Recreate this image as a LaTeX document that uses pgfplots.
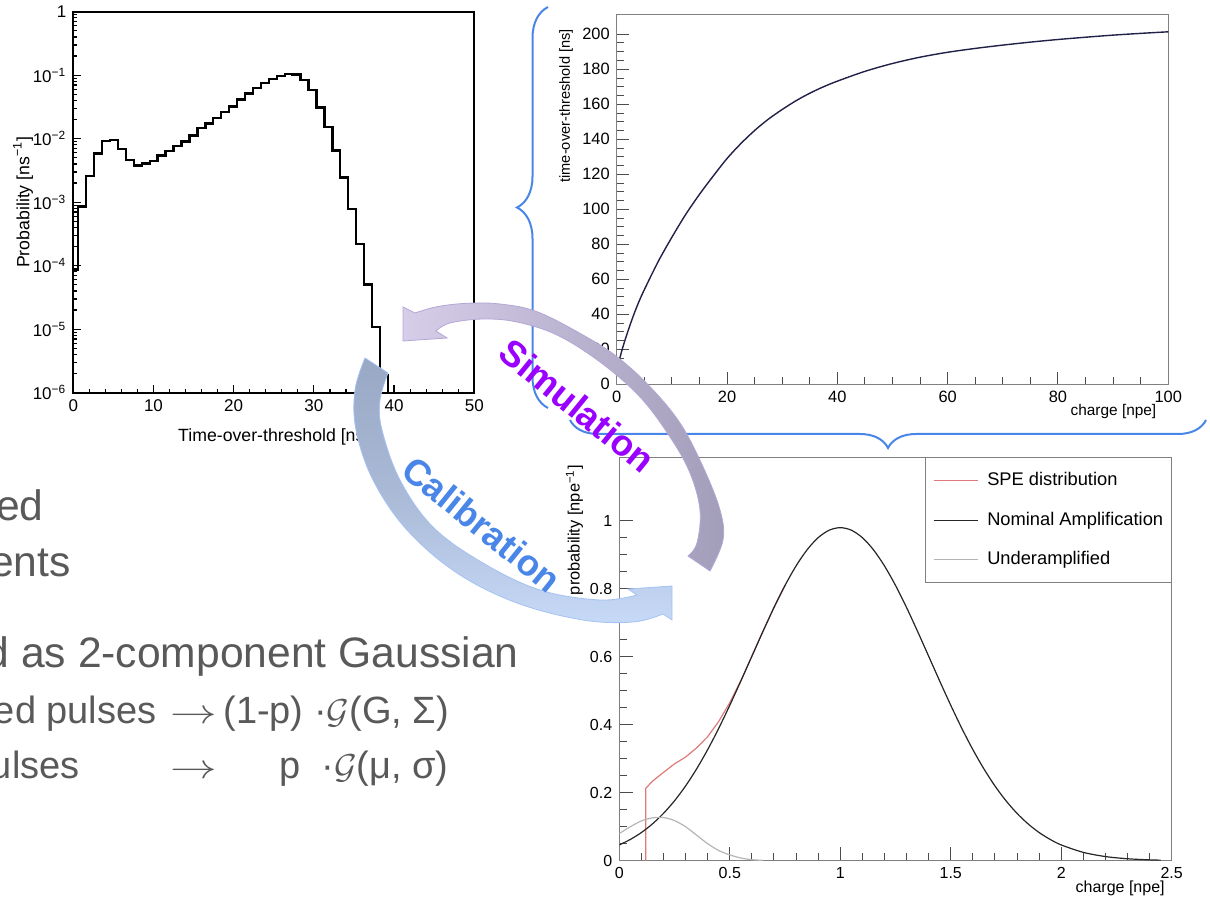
\documentclass[border=0pt]{standalone}
\usepackage{pgfplots}
\pgfplotsset{compat=1.18}
\usepackage{graphicx}
\usepackage{fontspec}
\setmainfont{Liberation Sans}
\usetikzlibrary{decorations.pathreplacing}
\definecolor{slidegray}{HTML}{595959}
\definecolor{bracecol}{HTML}{4A86E8}
\definecolor{simcol}{HTML}{9900FF}
\definecolor{calcol}{HTML}{4A86E8}
\definecolor{simlight}{HTML}{D6CDE9}
\definecolor{simdark}{HTML}{A29DB9}
\definecolor{simedge}{HTML}{B4A7D6}
\definecolor{callight}{HTML}{C6D9F7}
\definecolor{caldark}{HTML}{99A8C4}
\definecolor{caledge}{HTML}{A4C2F4}
\definecolor{rootframe}{HTML}{808080}
\definecolor{spered}{HTML}{E07A7A}
\definecolor{undergray}{HTML}{B5B5B5}
\definecolor{curvenavy}{HTML}{202048}

\begin{document}
\begin{tikzpicture}
\useasboundingbox (0pt,0pt) rectangle (605pt,-449pt);

% ---------------- top-left histogram ----------------
\begin{axis}[
  at={(36.65pt,-196.35pt)}, anchor=south west,
  scale only axis, width=200.5pt, height=190.5pt,
  xmin=0, xmax=50, ymode=log, ymin=1e-6, ymax=1,
  xtick={0,10,20,30,40,50}, minor x tick num=4,
  ytick={1e-6,1e-5,1e-4,1e-3,1e-2,1e-1,1},
  yticklabels={10\textsuperscript{−6},10\textsuperscript{−5},10\textsuperscript{−4},10\textsuperscript{−3},10\textsuperscript{−2},10\textsuperscript{−1},1},
  minor ytick={2e-6,3e-6,4e-6,5e-6,6e-6,7e-6,8e-6,9e-6,
               2e-5,3e-5,4e-5,5e-5,6e-5,7e-5,8e-5,9e-5,
               2e-4,3e-4,4e-4,5e-4,6e-4,7e-4,8e-4,9e-4,
               2e-3,3e-3,4e-3,5e-3,6e-3,7e-3,8e-3,9e-3,
               2e-2,3e-2,4e-2,5e-2,6e-2,7e-2,8e-2,9e-2,
               2e-1,3e-1,4e-1,5e-1,6e-1,7e-1,8e-1,9e-1},
  xtick pos=left, ytick pos=left,
  axis line style={line width=0.9pt},
  every tick/.style={black, line width=0.6pt},
  major tick length=4pt, minor tick length=2pt,
  tick label style={font=\fontsize{8.5}{10}\selectfont},
  /pgf/number format/assume math mode=true,
  xlabel={Time-over-threshold [ns]},
  ylabel={Probability [ns\textsuperscript{−1}]},
  label style={font=\fontsize{8.85}{10}\selectfont},
  xlabel style={at={(axis description cs:0.5,-0.1268)}, anchor=base},
  ylabel style={at={(axis description cs:-0.1254,0.5)}, anchor=center},
]
\addplot[const plot mark left, black, line width=1.2pt] coordinates {
 (0,1e-6) (0,8.75e-5) (0.62,8.5e-4) (1.61,2.61e-3) (2.60,5.87e-3) (3.59,9.19e-3)
 (4.58,9.53e-3) (5.57,6.88e-3) (6.56,4.61e-3) (7.55,3.76e-3) (8.54,4.09e-3)
 (9.53,4.45e-3) (10.52,5.40e-3) (11.51,6.39e-3) (12.50,7.76e-3) (13.49,9.08e-3)
 (14.48,1.13e-2) (15.47,1.47e-2) (16.46,1.74e-2) (17.45,2.14e-2) (18.44,2.63e-2)
 (19.43,3.23e-2) (20.42,4.16e-2) (21.41,5.18e-2) (22.40,6.28e-2) (23.39,7.53e-2)
 (24.38,8.7e-2) (25.37,9.7e-2) (26.36,0.104) (27.35,0.102) (28.34,8.39e-2)
 (29.33,5.84e-2) (30.32,3.11e-2) (31.31,1.53e-2) (32.30,6.55e-3) (33.29,2.46e-3)
 (34.28,7.8e-4) (35.27,2.19e-4) (36.26,5.08e-5) (37.25,1.09e-5) (38.24,1.9e-6)
 (39.23,1e-6) (50,1e-6)
};
\end{axis}

% ---------------- top-right curve ----------------
\begin{axis}[
  at={(308.35pt,-192.15pt)}, anchor=south west,
  scale only axis, width=275.8pt, height=185pt,
  xmin=0, xmax=100, ymin=0, ymax=211.4,
  xtick={0,20,40,60,80,100}, minor x tick num=3,
  ytick={0,20,40,60,80,100,120,140,160,180,200}, minor y tick num=3,
  xtick pos=left, ytick pos=left,
  axis line style={rootframe, line width=0.6pt},
  every tick/.style={black!70, line width=0.5pt},
  major tick length=6pt, minor tick length=3.5pt,
  tick label style={font=\fontsize{8.2}{10}\selectfont},
  /pgf/number format/assume math mode=true,
  xlabel={charge [npe]}, ylabel={time-over-threshold [ns]},
  xlabel style={font=\fontsize{7.7}{9}\selectfont, at={(axis description cs:0.991,-0.083)}, anchor=base east},
  ylabel style={font=\fontsize{7.3}{9}\selectfont, at={(axis description cs:-0.0919,0.979)}, anchor=east},
]
\addplot[curvenavy, line width=0.7pt, smooth] coordinates {
 (0,8) (1,20) (2,30) (3,39) (4,47) (5,54) (7.5,70) (10,84) (12.5,97) (15,108.5)
 (17.5,119) (20,129) (22.5,137.5) (25,145) (27.5,151.5) (30,157) (32.5,162)
 (35,166.3) (37.5,170) (40,173.2) (45,178.8) (50,183.3) (55,186.9) (60,189.7)
 (65,191.9) (70,193.8) (75,195.5) (80,197) (85,198.3) (90,199.5) (95,200.5) (100,201.4)
};
\end{axis}

% ---------------- bottom-right SPE ----------------
\begin{axis}[
  at={(309.65pt,-430.35pt)}, anchor=south west,
  scale only axis, width=276.2pt, height=201.7pt,
  xmin=0, xmax=2.5, ymin=0, ymax=1.187,
  xtick={0,0.5,1,1.5,2,2.5}, minor x tick num=4,
  ytick={0,0.2,0.4,0.6,0.8,1}, minor y tick num=3,
  xtick pos=left, ytick pos=left,
  axis line style={rootframe, line width=0.6pt},
  every tick/.style={black!70, line width=0.5pt},
  major tick length=7pt, minor tick length=4pt,
  tick label style={font=\fontsize{8}{10}\selectfont},
  /pgf/number format/assume math mode=true,
  xlabel={charge [npe]}, ylabel={probability [npe\textsuperscript{−1}]},
  xlabel style={font=\fontsize{8}{9}\selectfont, at={(axis description cs:1,-0.080)}, anchor=base east},
  ylabel style={font=\fontsize{8.2}{9}\selectfont, at={(axis description cs:-0.0811,0.998)}, anchor=east},
  legend style={at={(1,1)}, anchor=north east, draw=rootframe, line width=0.5pt, fill=white,
    inner xsep=4pt, inner ysep=7pt, row sep=11pt, font=\fontsize{9.15}{11}\selectfont,
    nodes={inner sep=0pt, text height=6.8pt, text depth=2pt},
    /tikz/every odd column/.append style={column sep=4.5pt}},
  legend cell align=left,
  legend image code/.code={\draw[#1] (0pt,0pt) -- (22pt,0pt);},
]
\addplot[spered, line width=0.6pt] coordinates {
 (0.12,0) (0.12,0.213) (0.15,0.234) (0.2,0.26) (0.25,0.285) (0.3,0.305) (0.35,0.332)
 (0.4,0.365) (0.45,0.41) (0.5,0.465) (0.55,0.53) (0.6,0.602) (0.65,0.675) (0.7,0.745) (0.75,0.81)
};
\addlegendentry{SPE distribution}
\addplot[black!85, line width=0.6pt, smooth] coordinates {
 (0,0.0464) (0.05,0.0626) (0.1,0.0829) (0.15,0.1083) (0.2,0.1393) (0.25,0.1764)
 (0.3,0.22) (0.35,0.2703) (0.4,0.327) (0.45,0.3896) (0.5,0.4574) (0.55,0.5286)
 (0.6,0.6017) (0.65,0.6745) (0.7,0.745) (0.75,0.81) (0.8,0.8675) (0.85,0.915)
 (0.9,0.9506) (0.95,0.9726) (1.0,0.98) (1.05,0.9726) (1.1,0.9506) (1.15,0.915)
 (1.2,0.8675) (1.25,0.81) (1.3,0.745) (1.35,0.6745) (1.4,0.6017) (1.45,0.5286)
 (1.5,0.4574) (1.55,0.3896) (1.6,0.327) (1.65,0.2703) (1.7,0.22) (1.75,0.1764)
 (1.8,0.1393) (1.85,0.1083) (1.9,0.0829) (1.95,0.0626) (2.0,0.0464) (2.1,0.0245)
 (2.2,0.0122) (2.3,0.0057) (2.4,0.0025) (2.45,0.0016)
};
\addlegendentry{Nominal Amplification}
\addplot[undergray, line width=0.6pt, smooth] coordinates {
 (0,0.08) (0.05,0.1) (0.1,0.117) (0.15,0.126) (0.2,0.127) (0.25,0.118) (0.3,0.1)
 (0.35,0.075) (0.4,0.05) (0.45,0.03) (0.5,0.017) (0.55,0.008) (0.6,0.003) (0.65,0.001)
};
\addlegendentry{Underamplified}
\end{axis}

% ---------------- decorations (pixel coordinates) ----------------
\begin{scope}[x=0.5pt, y=-0.5pt]
% braces
\draw[bracecol, line width=1pt, decorate, decoration={brace, amplitude=15.5pt}] (548,408) -- (548,7);
\draw[bracecol, line width=1pt, decorate, decoration={brace, amplitude=14pt}] (1206,420) -- (570,420);

% Simulation arrow
\path[draw=simedge, line width=0.4pt, left color=simlight, right color=simdark]
  (403,307) -- (415,313)
  -- plot[smooth, tension=0.6] coordinates {(415,313) (437,306.7) (467,303.3) (500,304) (537,311.7) (583,335) (617,356.7) (650,386.7) (680,423) (703,466.7) (720,510) (723,540) (710,571)}
  -- (688,556)
  -- plot[smooth, tension=0.6] coordinates {(688,556) (697,543) (700,510) (690,473) (670,437) (640,397) (600,362) (557,335) (517,322) (483,319) (450,323) (436,331)}
  -- (447,338) -- (403,341) -- cycle;

% Calibration arrow
\path[draw=caledge, line width=0.4pt, top color=caldark, bottom color=callight, middle color=caldark!65!callight]
  (365,358)
  -- plot[smooth, tension=0.6] coordinates {(365,358) (355,390) (356,430) (373,480) (407,530) (457,573) (517,603) (583,620) (633,622) (663,614)}
  -- (672,620) -- (672,586) -- (628,589) -- (637,595)
  -- plot[smooth, tension=0.6] coordinates {(637,595) (600,600) (540,590) (483,563) (433,527) (400,480) (382,430) (380,400) (388,373)}
  -- cycle;

% arrow labels
\node[rotate=-39.2, text=simcol, font=\bfseries\fontsize{18.3}{20}\selectfont, inner sep=0pt] at (577.5,405.8) {Simulation};
\node[rotate=-39, text=calcol, font=\bfseries\fontsize{18.3}{20}\selectfont, inner sep=0pt] at (481.7,524) {Calibration};

% slide text (cut at the left edge)
\begin{scope}[every node/.style={text=slidegray, inner sep=0pt}]
\node[anchor=base east, font=\fontsize{21.3}{25}\selectfont] at (44,520) {ed};
\node[anchor=base east, font=\fontsize{21.3}{25}\selectfont] at (71,576.7) {ents};
\node[anchor=base east, font=\fontsize{21.3}{25}\selectfont] at (519,667.7) {d as 2-component Gaussian};
\node[anchor=base east, font=\fontsize{19}{23}\selectfont] at (157,723.3) {ed pulses};
\node[anchor=base west, font=\fontsize{19}{23}\selectfont] at (170,723.3) {\scalebox{1.35}[1]{$\rightarrow$}};
\node[anchor=base west, font=\fontsize{19}{23}\selectfont] at (223,723.3) {(1-p) ·$\mathcal{G}$(G, Σ)};
\node[anchor=base east, font=\fontsize{19}{23}\selectfont] at (80,778.3) {ulses};
\node[anchor=base west, font=\fontsize{19}{23}\selectfont] at (170,778.3) {\scalebox{1.35}[1]{$\rightarrow$}};
\node[anchor=base west, font=\fontsize{19}{23}\selectfont] at (279,778.3) {p};
\node[anchor=base west, font=\fontsize{19}{23}\selectfont] at (321,778.3) {·$\mathcal{G}$(μ, σ)};
\end{scope}
\end{scope}
\end{tikzpicture}
\end{document}
